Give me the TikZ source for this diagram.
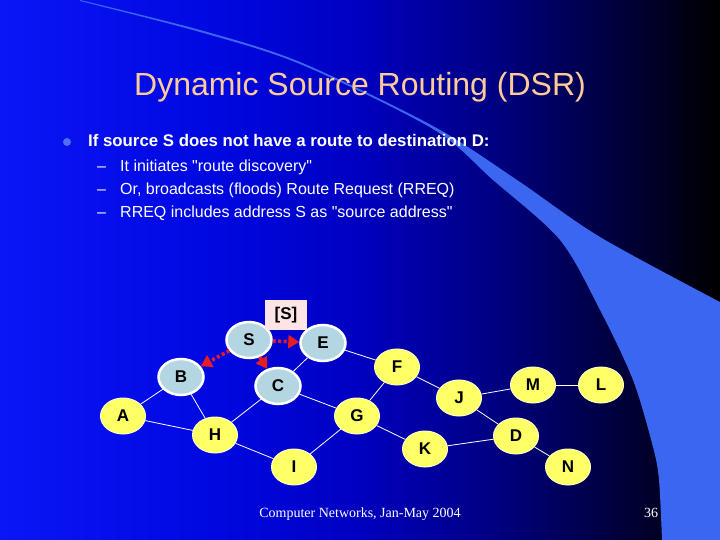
\documentclass[tikz,border=0pt]{standalone}
\usepackage{fontspec}
\setmainfont{Liberation Sans}
\newfontfamily\footfont{Liberation Serif}
\usepackage{tikz}
\usetikzlibrary{shapes.geometric, arrows.meta}

\definecolor{bgA}{RGB}{10,22,245}
\definecolor{bgB}{RGB}{0,8,225}
\definecolor{bgC}{RGB}{0,0,192}
\definecolor{bgD}{RGB}{0,0,125}
\definecolor{bgE}{RGB}{0,0,60}
\pgfdeclarehorizontalshading{slidebg}{100bp}{color(0bp)=(bgA); color(25bp)=(bgA); color(40bp)=(bgB); color(50bp)=(bgC); color(60bp)=(bgD); color(68bp)=(bgE); color(75bp)=(black); color(100bp)=(black)}

\begin{document}
\begin{tikzpicture}[x=1bp, y=-1bp, >=Stealth,
    yellownode/.style={ellipse, draw=yellowedge, line width=1bp, fill=nodeyellow, minimum width=45bp, minimum height=36bp, inner sep=0pt, font=\fontsize{17bp}{17bp}\selectfont\bfseries},
    bluenode/.style={yellownode, draw=white, line width=2.5bp, fill=nodeblue},
    link/.style={white, line width=0.8bp},
    flood/.style={draw=floodred, line width=3.5bp, dash pattern=on 3bp off 2.5bp, -{Triangle[length=11bp,width=13bp]}},
    sub/.style={anchor=base west, inner sep=0pt, white, font=\fontsize{16bp}{16bp}\selectfont}]
  \definecolor{titlepeach}{RGB}{255,204,153}
  \definecolor{swooshblue}{RGB}{58,102,240}
  \definecolor{nodeyellow}{RGB}{255,255,102}
  \definecolor{yellowedge}{RGB}{255,255,190}
  \definecolor{nodeblue}{RGB}{180,214,226}
  \definecolor{floodred}{RGB}{232,28,36}
  \definecolor{labelpink}{RGB}{255,228,230}
  \definecolor{dotblue}{RGB}{80,110,245}
  \useasboundingbox (0,0) rectangle (720,540);
  % slide background
  \shade[shading=slidebg] (0,0) rectangle (720,540);
  \fill[swooshblue] plot[smooth] coordinates {(80,0) (200,30) (300,62) (433,126) (517,180) (600,237) (720,302)}
    -- (720,540) -- (662,540)
    -- plot[smooth] coordinates {(662,540) (659,480) (653,447) (633,380) (600,310) (560,240) (493,180) (433,129) (300,64) (200,32) (80,1)} -- cycle;

  % title and bullets
  \node[anchor=base, inner sep=0pt, text=titlepeach, font=\fontsize{32bp}{32bp}\selectfont] (title) at (360,96) {Dynamic Source Routing (DSR)};
  \fill[dotblue] (67,142) circle (4);
  \node[anchor=base west, inner sep=0pt, white, font=\fontsize{16.8bp}{17bp}\selectfont\bfseries] (lead) at (88,147) {If source S does not have a route to destination D:};
  \node[sub] (d1) at (97,172) {--};
  \node[sub] (t1) at (120,172) {It initiates \textquotedbl route discovery\textquotedbl};
  \node[sub] (d2) at (97,195) {--};
  \node[sub] (t2) at (120,195) {Or, broadcasts (floods) Route Request (RREQ)};
  \node[sub] (d3) at (97,218) {--};
  \node[sub] (t3) at (120,218) {RREQ includes address S as \textquotedbl source address\textquotedbl};

  % network
  \node[bluenode] (S) at (249,340) {S};
  \node[bluenode] (E) at (323,343) {E};
  \node[bluenode] (B) at (181,377) {B};
  \node[bluenode] (C) at (278,386) {C};
  \node[yellownode] (F) at (397,367) {F};
  \node[yellownode] (A) at (123,416) {A};
  \node[yellownode] (H) at (215,435) {H};
  \node[yellownode] (G) at (357,416) {G};
  \node[yellownode] (I) at (294,467) {I};
  \node[yellownode] (J) at (459,398) {J};
  \node[yellownode] (M) at (533,385) {M};
  \node[yellownode] (L) at (601,385) {L};
  \node[yellownode] (K) at (425,449) {K};
  \node[yellownode] (D) at (516,436) {D};
  \node[yellownode] (N) at (568,467) {N};
  \node[fill=labelpink, minimum width=42bp, minimum height=30bp, inner sep=0pt, font=\fontsize{17bp}{17bp}\selectfont\bfseries] (rec) at (286,315) {[S]};

  \draw[link] (A) -- (B);
  \draw[link] (A) -- (H);
  \draw[link] (B) -- (H);
  \draw[link] (H) -- (C);
  \draw[link] (H) -- (I);
  \draw[link] (I) -- (G);
  \draw[link] (C) -- (G);
  \draw[link] (C) -- (E);
  \draw[link] (E) -- (F);
  \draw[link] (F) -- (G);
  \draw[link] (G) -- (K);
  \draw[link] (F) -- (J);
  \draw[link] (J) -- (M);
  \draw[link] (M) -- (L);
  \draw[link] (J) -- (D);
  \draw[link] (K) -- (D);
  \draw[link] (D) -- (N);

  \draw[flood] (S) -- (E);
  \draw[flood] (S) -- (B);
  \draw[flood] (S) -- (C);

  % footer
  \node[anchor=base, white, font=\footfont\fontsize{14bp}{14bp}\selectfont] (foot) at (360,517) {Computer Networks, Jan-May 2004};
  \node[anchor=base, white, font=\footfont\fontsize{14bp}{14bp}\selectfont] (page) at (651,517) {36};
\end{tikzpicture}
\end{document}
